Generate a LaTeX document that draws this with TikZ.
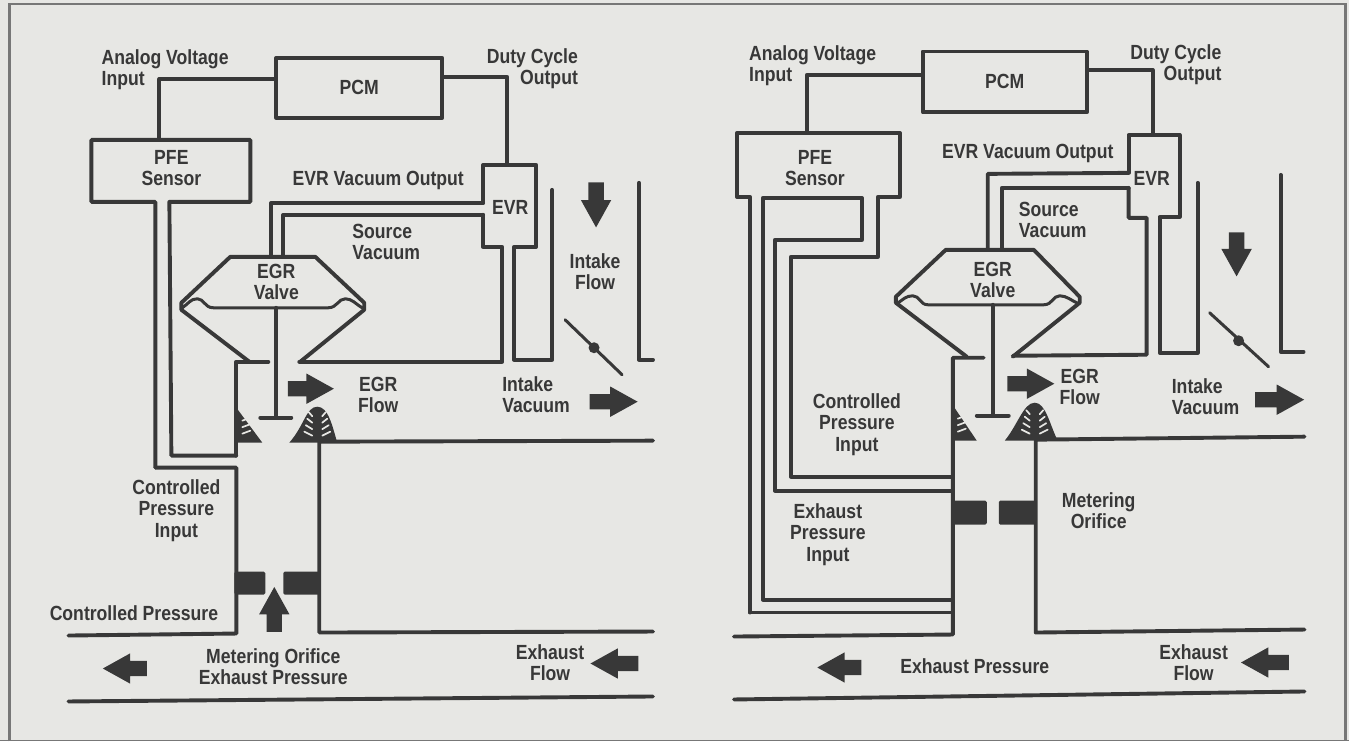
\documentclass[tikz,border=0pt]{standalone}
\usepackage{fontspec}
\setmainfont[FakeStretch=0.86]{Liberation Sans}
\usetikzlibrary{positioning,shapes.arrows,calc}
\definecolor{paper}{HTML}{E7E7E4}
\definecolor{ink}{HTML}{383838}
\definecolor{framegray}{HTML}{777777}

\begin{document}
\begin{tikzpicture}[
    x=1pt, y=-1pt,
    wall/.style={draw=ink, line width=3.9pt, line join=round, line cap=round},
    lbl/.style={font=\fontsize{20.5}{21.5}\selectfont\bfseries, text=ink, inner sep=0pt, align=center},
    lblL/.style={lbl, align=left, anchor=west},
    lblR/.style={lbl, align=right, anchor=east},
    box/.style={wall, rectangle, inner sep=0pt, font=\fontsize{20.5}{21.5}\selectfont\bfseries, text=ink, align=center},
    flow/.style={single arrow, fill=ink, inner sep=0pt, anchor=tip,
        single arrow head extend=7.5pt, single arrow tip angle=58,
        execute at begin node={\hspace*{15pt}\rule{0pt}{15pt}}},
    orifice/.style={fill=ink, rounded corners=1.5pt},
    hatch/.style={draw=paper, line width=1.7pt, line cap=round}
]
    % Paper and frame
    \fill[paper] (0,0) rectangle (1349,742);
    \draw[framegray, line width=2.2pt] (9,742) -- (9,4) -- (1346,4) -- (1346,742);
    \draw[framegray, line width=1pt] (0,741) -- (1349,741);

    % ---------- Left view ----------
    \node[box, minimum width=166pt, minimum height=60pt] (PCMa) at (359,88) {PCM};
    \coordinate (EVRa) at (507,165);
    \coordinate (PFEa) at (159,140);
    \draw[wall] (PCMa.west |- 0,79) -| (PFEa);
    \draw[wall] (PCMa.east |- 0,77) -| (EVRa);

    % PFE sensor and its pipe
    \draw[wall] (155,468) -- (155,202) -- (91,202) -- (91,140) -- (250,140) -- (250,202) -- (169,202) -- (171,456) -- (236,456);
    \node[lbl] (pfeTa) at (171,168) {PFE\\Sensor};

    % EVR
    \draw[wall] (483,203) -- (483,165) -- (536,165) -- (536,247) -- (514,247) -- (514,360) -- (552,360) -- (552,190);
    \draw[wall] (483,215) -- (483,247) -- (502,247) -- (502,362) -- (299,362);
    \draw[wall] (483,203) -- (271,203) -- (271,257);
    \draw[wall] (483,215) -- (283,215) -- (283,257);
    \node[lbl] (evrTa) at (510,208) {EVR};

    % EGR valve
    \draw[wall] (300,362) -- (364,310) -- (364,303) -- (315,257) -- (230,257) -- (181,303) -- (181,310) -- (249,362);
    \draw[wall, line width=3pt] (182,308) .. controls (188,304) and (190,299) .. (197,299) .. controls (204,299) and (204,308) .. (213,308)
        -- (328,308) .. controls (337,308) and (338,299) .. (345,299) .. controls (352,299) and (355,304) .. (362,308);
    \draw[wall] (276,308) -- (276,418);
    \draw[wall] (260,418) -- (291,418);

    % Passage walls
    \draw[wall] (268,362) -- (236,362) -- (236,456);
    \draw[wall] (155,468) -- (236,468) -- (236,634) -- (68,636);
    \draw[wall] (653,441) -- (319,442) -- (319,633) -- (653,632);
    \draw[wall] (68,702) -- (653,697);

    % Wedges
    \fill[ink] (236,408) -- (262,443) -- (236,443) -- cycle;
    \fill[ink] (289,443) .. controls (304,426) and (306,407) .. (317,407) .. controls (328,407) and (332,426) .. (337,443) -- cycle;
    \foreach \i in {0,1,2}
        \draw[hatch] (242,{434-\i*6.5}) -- (250,{430-\i*6.5+1});
    \foreach \i in {0,1,2,3} {
        \draw[hatch] (312,{436-\i*6.5}) -- ({312-8+\i*1.5},{430-\i*6.5+2});
        \draw[hatch] (322,{436-\i*6.5}) -- ({322+8-\i*1.5},{430-\i*6.5+2});
    }

    % Metering orifice
    \fill[orifice] (234,572) rectangle (265,595);
    \fill[orifice] (283,572) rectangle (320,595);

    % Intake
    \draw[wall] (639,183) -- (639,360) -- (653,360);
    \draw[wall, line width=3pt] (565,320) -- (622,375);
    \fill[ink] (594,348) circle (5.5);
    \node[circle, minimum size=0pt, inner sep=0pt] (dota) at (594,348) {};

    % Flow arrows
    \node[flow, minimum height=46pt, shape border rotate=0] (egrFa) at (334,389) {};
    \node[flow, minimum height=48pt, shape border rotate=0] (vacFa) at (638,402) {};
    \node[flow, minimum height=48pt, shape border rotate=180] (exhFa) at (590,664) {};
    \node[flow, minimum height=44pt, shape border rotate=180] (outFa) at (102,669) {};
    \node[flow, minimum height=45pt, shape border rotate=270] (intFa) at (596,228) {};
    \node[flow, minimum height=45pt, shape border rotate=90] (oriFa) at (274,587) {};

    % Labels
    \node[lblL] (avTa) at (101,70) {Analog Voltage\\Input};
    \node[lblR] (dcTa) at (578,69) {Duty Cycle\\Output};
    \node[lbl] (evoTa) at (378,181) {EVR Vacuum Output};
    \node[lblL] (svTa) at (352,242) {Source\\Vacuum};
    \node[lbl] (valTa) at (276,282) {EGR\\Valve};
    \node[lbl] (infTa) at (595,272) {Intake\\Flow};
    \node[lbl] (efTa) at (378,395) {EGR\\Flow};
    \node[lblL] (ivTa) at (502,395) {Intake\\Vacuum};
    \node[lbl] (cpiTa) at (176,511) {Controlled\\Pressure\\Input};
    \node[lblR] (cpTa) at (218,614) {Controlled Pressure};
    \node[lbl] (moTa) at (273,667) {Metering Orifice\\Exhaust Pressure};
    \node[lbl] (exTa) at (550,663) {Exhaust\\Flow};

    % ---------- Right view ----------
    \node[box, minimum width=164pt, minimum height=61pt] (PCMb) at (1005,82) {PCM};
    \coordinate (EVRb) at (1153,135);
    \coordinate (PFEb) at (807,133);
    \draw[wall] (PCMb.west |- 0,75) -| (PFEb);
    \draw[wall] (PCMb.east |- 0,70) -| (EVRb);

    % PFE sensor and its three pipes
    \draw[wall] (750,613) -- (750,197) -- (737,197) -- (737,133) -- (900,133) -- (900,197) -- (878,197) -- (878,257) -- (791,257) -- (791,477) -- (953,477);
    \draw[wall] (953,600) -- (763,600) -- (763,198) -- (862,198) -- (862,240) -- (775,240) -- (775,491) -- (953,491);
    \draw[wall] (750,613) -- (953,613);
    \node[lbl] (pfeTb) at (815,168) {PFE\\Sensor};

    % EVR
    \draw[wall] (1129,173) -- (1129,135) -- (1180,135) -- (1180,217) -- (1160,217) -- (1160,353) -- (1198,353) -- (1198,183);
    \draw[wall] (1129,188) -- (1129,218) -- (1147,218) -- (1147,355) -- (1013,356);
    \draw[wall] (1129,173) -- (988,174) -- (988,250);
    \draw[wall] (1129,188) -- (1002,188) -- (1002,250);
    \node[lbl] (evrTb) at (1152,179) {EVR};

    % EGR valve
    \draw[wall] (1013,357) -- (1080,303) -- (1080,297) -- (1034,250) -- (946,250) -- (896,297) -- (896,303) -- (967,357);
    \draw[wall, line width=3pt] (897,304) .. controls (903,300) and (906,296) .. (913,296) .. controls (920,296) and (920,305) .. (928,305)
        -- (1044,305) .. controls (1053,305) and (1053,296) .. (1060,296) .. controls (1067,296) and (1072,301) .. (1079,304);
    \draw[wall] (993,305) -- (993,416);
    \draw[wall] (977,416) -- (1009,416);

    % Passage walls
    \draw[wall] (984,358) -- (953,358) -- (953,635) -- (734,637);
    \draw[wall] (1305,437) -- (1036,440) -- (1036,633) -- (1305,630);
    \draw[wall] (734,700) -- (1305,692);

    % Wedges
    \fill[ink] (954,407) -- (977,441) -- (954,441) -- cycle;
    \fill[ink] (1005,441) .. controls (1018,425) and (1024,403) .. (1035,403) .. controls (1046,403) and (1050,425) .. (1058,441) -- cycle;
    \foreach \i in {0,1,2}
        \draw[hatch] (958,{432-\i*6.5}) -- (966,{428-\i*6.5+1});
    \foreach \i in {0,1,2,3} {
        \draw[hatch] (1030,{434-\i*6.5}) -- ({1030-8+\i*1.5},{428-\i*6.5+2});
        \draw[hatch] (1040,{434-\i*6.5}) -- ({1040+8-\i*1.5},{428-\i*6.5+2});
    }

    % Metering orifice
    \fill[orifice] (953,501) rectangle (987,525);
    \fill[orifice] (999,501) rectangle (1036,525);

    % Intake
    \draw[wall] (1281,175) -- (1281,352) -- (1304,352);
    \draw[wall, line width=3pt] (1210,313) -- (1269,367);
    \fill[ink] (1239,341) circle (5.5);
    \node[circle, minimum size=0pt, inner sep=0pt] (dotb) at (1239,341) {};

    % Flow arrows
    \node[flow, minimum height=47pt, shape border rotate=0] (egrFb) at (1055,384) {};
    \node[flow, minimum height=49pt, shape border rotate=0] (vacFb) at (1305,400) {};
    \node[flow, minimum height=48pt, shape border rotate=180] (exhFb) at (1241,663) {};
    \node[flow, minimum height=44pt, shape border rotate=180] (outFb) at (817,668) {};
    \node[flow, minimum height=44pt, shape border rotate=270] (intFb) at (1237,277) {};

    % Labels
    \node[lblL] (avTb) at (749,66) {Analog Voltage\\Input};
    \node[lblR] (dcTb) at (1222,65) {Duty Cycle\\Output};
    \node[lbl] (evoTb) at (1028,154) {EVR Vacuum Output};
    \node[lblL] (svTb) at (1019,220) {Source\\Vacuum};
    \node[lbl] (valTb) at (993,280) {EGR\\Valve};
    \node[lbl] (cpiTb) at (857,425) {Controlled\\Pressure\\Input};
    \node[lbl] (efTb) at (1080,387) {EGR\\Flow};
    \node[lblL] (ivTb) at (1172,397) {Intake\\Vacuum};
    \node[lbl] (moTb) at (1099,511) {Metering\\Orifice};
    \node[lbl] (epiTb) at (828,535) {Exhaust\\Pressure\\Input};
    \node[lbl] (epTb) at (975,667) {Exhaust Pressure};
    \node[lbl] (exTb) at (1194,663) {Exhaust\\Flow};
\end{tikzpicture}
\end{document}
